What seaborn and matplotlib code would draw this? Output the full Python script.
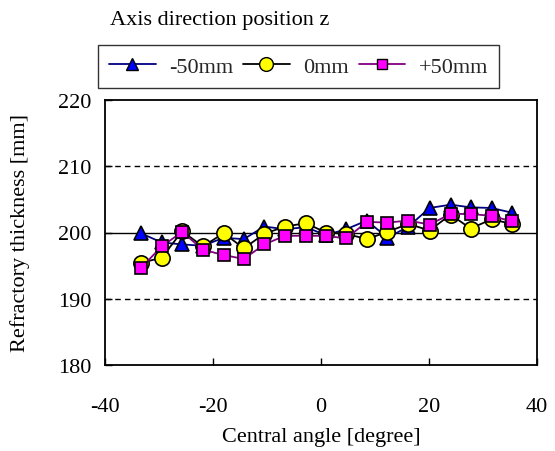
import matplotlib
matplotlib.use("Agg")
import matplotlib.pyplot as plt
import seaborn as sns
import pandas as pd

angles = [-33.4, -29.5, -25.7, -21.9, -18.0, -14.3, -10.5, -6.7, -2.8, 0.9,
          4.65, 8.5, 12.3, 16.2, 20.1, 24.0, 27.7, 31.6, 35.3]
minus50 = [199.9, 198.5, 198.2, 198.0, 199.2, 199.0, 200.9, 200.5, 200.8, 199.6,
           200.5, 201.8, 199.2, 200.9, 203.7, 204.2, 203.8, 203.7, 203.0]
zero = [195.4, 196.2, 200.2, 197.9, 199.9, 197.6, 199.8, 200.9, 201.4, 200.0,
        199.8, 199.0, 200.1, 201.3, 200.3, 202.7, 200.6, 202.0, 201.3]
plus50 = [194.6, 197.9, 200.1, 197.4, 196.6, 196.0, 198.2, 199.5, 199.5, 199.5,
          199.1, 201.6, 201.5, 201.8, 201.2, 202.8, 202.8, 202.5, 201.7]
series_names = ["-50mm", "0mm", "+50mm"]
x_ticks = [-40, -20, 0, 20, 40]
y_ticks = [180, 190, 200, 210, 220]

sns.set_theme(style="white")
plt.rcParams['font.family'] = ['Liberation Serif', 'DejaVu Serif']
plt.rcParams['axes.unicode_minus'] = False

FS = 16
fig = plt.figure(figsize=(5.55, 4.52), dpi=100)
ax = fig.add_axes([105/555, 1-366/452, (537-105)/555, (366-101)/452])

styles = [
    dict(color="#000080", marker="^", mfc="#0000FF", ms=10),
    dict(color="#000000", marker="o", mfc="#FFFF00", ms=11),
    dict(color="#800080", marker="s", mfc="#FF00FF", ms=8),
]
handles = []
for name, vals, st in zip(series_names, [minus50, zero, plus50], styles):
    df = pd.DataFrame({"angle": angles, "thick": vals})
    sns.lineplot(data=df, x="angle", y="thick", ax=ax, color=st["color"],
                 marker=st["marker"], markersize=st["ms"],
                 markerfacecolor=st["mfc"], markeredgecolor="black",
                 markeredgewidth=1.2, linewidth=1.3, sort=False, zorder=3)
    h, = ax.plot([], [], color=st["color"], marker=st["marker"], ms=st["ms"]*0.9,
                 mfc=st["mfc"], mec="black", mew=1.0, lw=1.3)
    handles.append(h)

ax.axhline(200, color="black", lw=1.0, zorder=1)
ax.axhline(190, color="black", lw=1.0, ls=(0, (4, 3)), zorder=1)
ax.axhline(210, color="black", lw=1.0, ls=(0, (4, 3)), zorder=1)

ax.set_xlim(-40, 40)
ax.set_ylim(180, 220)
ax.set_xticks(x_ticks)
ax.set_yticks(y_ticks)
ax.tick_params(direction="in", length=5, width=1, colors="black", labelsize=FS,
               bottom=True, left=True)
ax.tick_params(axis="x", pad=23)
ax.tick_params(axis="y", pad=10)
for s in ax.spines.values():
    s.set_color("black")
    s.set_linewidth(1.3)
ax.set_xlabel("Central angle [degree]", fontsize=FS, color="black", labelpad=8)
ax.set_ylabel("Refractory thickness [mm]", fontsize=FS, color="black", labelpad=20)

fig.text(110/555, 1-20/452, "Axis direction position z", fontsize=FS,
         va="center", ha="left", color="black")
leg = fig.legend(handles, series_names, loc="center", ncol=3,
                 bbox_to_anchor=(298.5/555, 1-67.5/452), fontsize=FS,
                 frameon=True, fancybox=False, edgecolor="black",
                 handlelength=2.1, columnspacing=0.45, handletextpad=0.6,
                 borderpad=0.5)
leg.get_frame().set_linewidth(1.0)

fig.savefig("out.png", dpi=100)
